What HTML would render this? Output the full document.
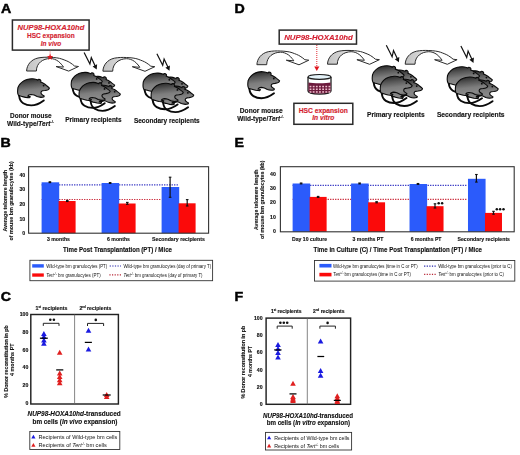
<!DOCTYPE html><html><head><meta charset="utf-8"><style>
html,body{margin:0;padding:0;background:#fff;width:520px;height:455px;overflow:hidden}
svg{display:block;filter:blur(0.3px);font-family:"Liberation Sans",sans-serif}
</style></head><body>
<svg width="520" height="455" viewBox="0 0 520 455">
<defs>
<linearGradient id="mg" x1="0.3" y1="0" x2="0.5" y2="1">
<stop offset="0" stop-color="#282828"/><stop offset="0.28" stop-color="#555"/><stop offset="0.58" stop-color="#7e7e7e"/><stop offset="0.85" stop-color="#898989"/><stop offset="1" stop-color="#6e6e6e"/>
</linearGradient>
<linearGradient id="ag" x1="26" y1="0" x2="79" y2="0" gradientUnits="userSpaceOnUse">
<stop offset="0" stop-color="#c2c2c2"/><stop offset="0.3" stop-color="#d6d6d6"/><stop offset="0.5" stop-color="#fff"/><stop offset="1" stop-color="#fff"/>
</linearGradient>
<g id="mouse">
<path d="M4.7,21.0 C3.9,19.8 3.6,18.6 3.6,17.2 C3.6,15.7 3.7,14.3 3.9,13.0 C4.4,11.6 5,10.4 5.9,9.4 C7,8.0 8,7.1 9.3,6.3 C10.8,5.4 12.3,4.8 13.9,4.4 C15.5,4.0 17,3.9 18.6,4.0 C20,4.1 21.3,4.4 22.4,4.8 L23.7,5.3 C24,4.8 24.4,4.4 24.8,4.4 C25.5,4.4 26.1,4.6 26.4,5.0 C26.8,5.5 26.9,5.9 26.9,6.4 L26.6,7.3 C27.6,7.7 28.5,8.0 29.3,8.5 C30.4,9.2 31.4,9.9 32.4,10.7 C33.5,11.5 34.6,12.3 35.4,13.2 C35.2,14.0 34.7,14.6 34,14.9 C33,15.3 32,15.5 30.9,15.7 L28.6,16.0 C27.6,16.4 27.1,17 27,17.6 C26.9,18.5 27.2,19.1 27.8,19.5 C28.5,20.1 29.3,20.6 30.0,21.0 C30.3,21.5 30.1,22.0 29.6,22.2 C28.8,22.5 27.9,22.6 27,22.6 C25.6,22.5 24.4,22.3 23.2,21.8 C22.2,21.3 21.1,20.8 20.1,20.3 C19.1,19.9 18,19.7 17,19.7 C16.1,19.8 15.3,20 14.7,20.3 L13.8,21.3 L16.2,21.8 C16.1,22.4 15.8,22.8 15.4,23 C14.2,23 12.9,22.8 11.6,22.6 C10.6,22.4 9.6,22.1 8.6,21.8 C7.5,21.5 6.5,21.2 5.5,21 Z" fill="url(#mg)" stroke="#0a0a0a" stroke-width="1.1" stroke-linejoin="round"/>
<path d="M5.2,21.2 C5.5,24.5 7,27 9.2,28.4 C11.8,30 14.5,30.6 17.2,30.6 C21.2,30.6 25.2,29 29.8,25.6" fill="none" stroke="#0a0a0a" stroke-width="1.9" stroke-linecap="round"/>
<circle cx="29.6" cy="10.8" r="0.9" fill="#0a0a0a"/>
</g>
<g id="group">
<use href="#mouse" transform="translate(12.55,4.15)"/>
<use href="#mouse"/>
<use href="#mouse" transform="translate(18.35,13.35)"/>
<use href="#mouse" transform="translate(8,10.4)"/>
</g>
<g id="arrow">
<path d="M26.6,71 C26.8,65 31,59.5 38,58 C42,57.2 46,57.1 50.2,57.3 C55,57.5 59,58 61.8,59 C65,60.2 67.8,61.2 69.8,62.5 C71.8,63.8 73.3,64.8 74.5,66 L78.5,66.5 L68.7,71.1 L56,66.5 L63.5,67.1 C63,66.3 62.5,65.5 61.8,64.8 C60.8,63.5 59.6,62.3 58.3,61.3 C55.8,59.5 53,58.5 50.2,58.5 C43,58.6 36.4,63 36.4,71 Z" fill="url(#ag)" stroke="#2a2a2a" stroke-width="1" stroke-linejoin="round"/>
</g>
<g id="bolt">
<polyline points="84.1,52.5 89.9,64 91.3,57.7 95.2,66" fill="none" stroke="#111" stroke-width="1.2" stroke-linejoin="miter"/>
<polygon points="92.6,66.4 97.1,64.2 96.7,69.5" fill="#111"/>
</g>
</defs>

<text transform="translate(0.9,12.6) scale(1.13,1)" font-size="12.6" font-weight="bold" fill="#000" stroke="#000" stroke-width="0.45">A</text>
<text transform="translate(0.6,146.6) scale(1.13,1)" font-size="12.6" font-weight="bold" fill="#000" stroke="#000" stroke-width="0.45">B</text>
<text transform="translate(0.7,301.3) scale(1.13,1)" font-size="12.6" font-weight="bold" fill="#000" stroke="#000" stroke-width="0.45">C</text>
<text transform="translate(234.6,12.6) scale(1.13,1)" font-size="12.6" font-weight="bold" fill="#000" stroke="#000" stroke-width="0.45">D</text>
<text transform="translate(234.6,146.9) scale(1.13,1)" font-size="12.6" font-weight="bold" fill="#000" stroke="#000" stroke-width="0.45">E</text>
<text transform="translate(234.6,301.0) scale(1.13,1)" font-size="12.6" font-weight="bold" fill="#000" stroke="#000" stroke-width="0.45">F</text>
<rect x="12.4" y="20" width="76.7" height="30.1" fill="#fff" stroke="#2a2a2a" stroke-width="1.5"/>
<text x="17.60" y="30.30" font-size="7.8" font-weight="bold" font-style="italic" fill="#d41e30" text-anchor="start" textLength="66.80" lengthAdjust="spacingAndGlyphs"  stroke="#d41e30" stroke-width="0.14">NUP98-HOXA10hd</text>
<text x="27.10" y="38.40" font-size="7.0" font-weight="bold" font-style="normal" fill="#d41e30" text-anchor="start" textLength="47.60" lengthAdjust="spacingAndGlyphs"  stroke="#d41e30" stroke-width="0.14">HSC expansion</text>
<text x="40.80" y="46.40" font-size="7.0" font-weight="bold" font-style="italic" fill="#d41e30" text-anchor="start" textLength="20.50" lengthAdjust="spacingAndGlyphs"  stroke="#d41e30" stroke-width="0.14">In vivo</text>
<use href="#arrow"/>
<use href="#arrow" transform="translate(76.3,0.2)"/>
<line x1="50.1" y1="50.8" x2="50.1" y2="55" stroke="#f0a0a0" stroke-width="0.8"/>
<polygon points="50.10,53.80 50.97,55.90 53.24,56.08 51.51,57.56 52.04,59.77 50.10,58.59 48.16,59.77 48.69,57.56 46.96,56.08 49.23,55.90" fill="#e0141c"/>
<use href="#mouse" transform="translate(14,74.8)"/>
<use href="#group" transform="translate(67.66,68.54) scale(0.9805,0.9614)"/>
<use href="#group" transform="translate(139.36,69.18) scale(1.0117,0.9783)"/>
<use href="#bolt"/>
<use href="#bolt" transform="translate(72.8,1.3)"/>
<text x="10.10" y="118.10" font-size="6.7" font-weight="bold" font-style="normal" fill="#111" text-anchor="start" textLength="41.50" lengthAdjust="spacingAndGlyphs"  stroke="#111" stroke-width="0.14">Donor mouse</text>
<text x="7.10" y="125.50" font-size="6.9" font-weight="bold" font-style="normal" fill="#111" text-anchor="start" textLength="47.00" lengthAdjust="spacingAndGlyphs"  stroke="#111" stroke-width="0.14">Wild-type/<tspan font-style="italic">Tert</tspan><tspan font-size="4" dy="-2.6" stroke-width="0.1">-/-</tspan></text>
<text x="65.20" y="122.40" font-size="6.7" font-weight="bold" font-style="normal" fill="#111" text-anchor="start" textLength="56.40" lengthAdjust="spacingAndGlyphs"  stroke="#111" stroke-width="0.14">Primary recipients</text>
<text x="133.90" y="122.50" font-size="6.9" font-weight="bold" font-style="normal" fill="#111" text-anchor="start" textLength="65.80" lengthAdjust="spacingAndGlyphs"  stroke="#111" stroke-width="0.14">Secondary recipients</text>
<rect x="279.2" y="30.1" width="77.3" height="14.0" fill="#fff" stroke="#2a2a2a" stroke-width="1.5"/>
<text x="284.20" y="40.10" font-size="8.0" font-weight="bold" font-style="italic" fill="#d41e30" text-anchor="start" textLength="68.60" lengthAdjust="spacingAndGlyphs"  stroke="#d41e30" stroke-width="0.14">NUP98-HOXA10hd</text>
<use href="#arrow" transform="translate(230.3,-6.3)"/>
<use href="#arrow" transform="translate(300.9,-6.8)"/>
<use href="#arrow" transform="translate(378.6,-6.8)"/>
<line x1="316.8" y1="45" x2="316.8" y2="67" stroke="#e0141c" stroke-width="0.9" stroke-dasharray="1,1"/>
<polygon points="314.2,66.5 319.4,66.5 316.8,71" fill="#e0141c"/>
<g>
<path d="M308,77 L308,91 C308,93 314,94 319.5,94 C325,94 331,93 331,91 L331,77" fill="#fff" stroke="#1a1a1a" stroke-width="1.25"/>
<path d="M308.4,82.6 C312,83.6 327,83.6 330.6,82.6 L330.6,91 C330.6,92.7 325,93.6 319.5,93.6 C314,93.6 308.4,92.7 308.4,91 Z" fill="#6c1a3c"/>
<ellipse cx="319.5" cy="76.9" rx="11.5" ry="2.4" fill="#e4f2f8" stroke="#1a1a1a" stroke-width="1.2"/>
</g>
<rect x="309.60" y="85.80" width="1.8" height="1.5" fill="#eebccc"/><rect x="312.75" y="85.80" width="1.8" height="1.5" fill="#eebccc"/><rect x="315.90" y="85.80" width="1.8" height="1.5" fill="#eebccc"/><rect x="319.05" y="85.80" width="1.8" height="1.5" fill="#eebccc"/><rect x="322.20" y="85.80" width="1.8" height="1.5" fill="#eebccc"/><rect x="325.35" y="85.80" width="1.8" height="1.5" fill="#eebccc"/><rect x="328.50" y="85.80" width="1.8" height="1.5" fill="#eebccc"/><rect x="309.60" y="88.50" width="1.8" height="1.5" fill="#eebccc"/><rect x="312.75" y="88.50" width="1.8" height="1.5" fill="#eebccc"/><rect x="315.90" y="88.50" width="1.8" height="1.5" fill="#eebccc"/><rect x="319.05" y="88.50" width="1.8" height="1.5" fill="#eebccc"/><rect x="322.20" y="88.50" width="1.8" height="1.5" fill="#eebccc"/><rect x="325.35" y="88.50" width="1.8" height="1.5" fill="#eebccc"/><rect x="328.50" y="88.50" width="1.8" height="1.5" fill="#eebccc"/><rect x="309.60" y="91.20" width="1.8" height="1.5" fill="#eebccc"/><rect x="312.75" y="91.20" width="1.8" height="1.5" fill="#eebccc"/><rect x="315.90" y="91.20" width="1.8" height="1.5" fill="#eebccc"/><rect x="319.05" y="91.20" width="1.8" height="1.5" fill="#eebccc"/><rect x="322.20" y="91.20" width="1.8" height="1.5" fill="#eebccc"/><rect x="325.35" y="91.20" width="1.8" height="1.5" fill="#eebccc"/><rect x="328.50" y="91.20" width="1.8" height="1.5" fill="#eebccc"/>
<rect x="293.9" y="103.3" width="58.9" height="21.0" fill="#fff" stroke="#2a2a2a" stroke-width="1.5"/>
<text x="298.75" y="112.50" font-size="6.3" font-weight="bold" font-style="normal" fill="#d41e30" text-anchor="start" textLength="49.10" lengthAdjust="spacingAndGlyphs"  stroke="#d41e30" stroke-width="0.14">HSC expansion</text>
<text x="312.25" y="120.40" font-size="6.3" font-weight="bold" font-style="italic" fill="#d41e30" text-anchor="start" textLength="22.20" lengthAdjust="spacingAndGlyphs"  stroke="#d41e30" stroke-width="0.14">In vitro</text>
<use href="#mouse" transform="translate(244.2,67.7)"/>
<use href="#group" transform="translate(368.59,61.77) scale(1.0039,1.0072)"/>
<use href="#group" transform="translate(443.55,62.86) scale(1.0176,0.9831)"/>
<use href="#bolt" transform="translate(302.2,-7.2)"/>
<use href="#bolt" transform="translate(376.8,-6.6)"/>
<text x="239.80" y="113.30" font-size="6.7" font-weight="bold" font-style="normal" fill="#111" text-anchor="start" textLength="42.80" lengthAdjust="spacingAndGlyphs"  stroke="#111" stroke-width="0.14">Donor mouse</text>
<text x="237.30" y="120.90" font-size="6.9" font-weight="bold" font-style="normal" fill="#111" text-anchor="start" textLength="46.50" lengthAdjust="spacingAndGlyphs"  stroke="#111" stroke-width="0.14">Wild-type/<tspan font-style="italic">Tert</tspan><tspan font-size="4" dy="-2.6" stroke-width="0.1">-/-</tspan></text>
<text x="367.00" y="116.50" font-size="6.9" font-weight="bold" font-style="normal" fill="#111" text-anchor="start" textLength="57.70" lengthAdjust="spacingAndGlyphs"  stroke="#111" stroke-width="0.14">Primary recipients</text>
<text x="436.90" y="116.50" font-size="6.9" font-weight="bold" font-style="normal" fill="#111" text-anchor="start" textLength="67.70" lengthAdjust="spacingAndGlyphs"  stroke="#111" stroke-width="0.14">Secondary recipients</text>
<line x1="41.60" y1="184.8" x2="178.5" y2="184.8" stroke="#2c2cc0" stroke-width="1.2" stroke-dasharray="1.25,1.25"/>
<line x1="41.60" y1="199.5" x2="161.5" y2="199.5" stroke="#c82233" stroke-width="1.2" stroke-dasharray="1.25,1.25"/>
<rect x="41.60" y="182.3" width="17.6" height="50.90" fill="#2b5bfb"/>
<rect x="58.60" y="201.0" width="17.0" height="32.20" fill="#fb0a0a"/>
<rect x="101.60" y="183.0" width="17.6" height="50.20" fill="#2b5bfb"/>
<rect x="118.60" y="203.5" width="17.0" height="29.70" fill="#fb0a0a"/>
<rect x="161.60" y="187.0" width="17.6" height="46.20" fill="#2b5bfb"/>
<rect x="178.60" y="203.3" width="17.0" height="29.90" fill="#fb0a0a"/>
<line x1="49.9" y1="181.8" x2="49.9" y2="182.6" stroke="#111" stroke-width="1.2"/>
<line x1="48.6" y1="181.8" x2="51.199999999999996" y2="181.8" stroke="#111" stroke-width="1.1"/>
<line x1="48.6" y1="182.6" x2="51.199999999999996" y2="182.6" stroke="#111" stroke-width="1.1"/>
<line x1="67.3" y1="200.4" x2="67.3" y2="201.5" stroke="#111" stroke-width="1.2"/>
<line x1="66.0" y1="200.4" x2="68.6" y2="200.4" stroke="#111" stroke-width="1.1"/>
<line x1="66.0" y1="201.5" x2="68.6" y2="201.5" stroke="#111" stroke-width="1.1"/>
<line x1="110.1" y1="182.6" x2="110.1" y2="183.4" stroke="#111" stroke-width="1.2"/>
<line x1="108.8" y1="182.6" x2="111.39999999999999" y2="182.6" stroke="#111" stroke-width="1.1"/>
<line x1="108.8" y1="183.4" x2="111.39999999999999" y2="183.4" stroke="#111" stroke-width="1.1"/>
<line x1="127.3" y1="202.4" x2="127.3" y2="204.3" stroke="#111" stroke-width="1.2"/>
<line x1="126.0" y1="202.4" x2="128.6" y2="202.4" stroke="#111" stroke-width="1.1"/>
<line x1="126.0" y1="204.3" x2="128.6" y2="204.3" stroke="#111" stroke-width="1.1"/>
<line x1="170.1" y1="177.2" x2="170.1" y2="197.3" stroke="#111" stroke-width="1.2"/>
<line x1="168.79999999999998" y1="177.2" x2="171.4" y2="177.2" stroke="#111" stroke-width="1.1"/>
<line x1="168.79999999999998" y1="197.3" x2="171.4" y2="197.3" stroke="#111" stroke-width="1.1"/>
<line x1="187.2" y1="199.6" x2="187.2" y2="206.0" stroke="#111" stroke-width="1.2"/>
<line x1="185.89999999999998" y1="199.6" x2="188.5" y2="199.6" stroke="#111" stroke-width="1.1"/>
<line x1="185.89999999999998" y1="206.0" x2="188.5" y2="206.0" stroke="#111" stroke-width="1.1"/>
<rect x="28.6" y="166.7" width="180.00" height="66.50" fill="none" stroke="#333" stroke-width="1.1"/>
<text x="25.20" y="176.55" font-size="5.2" font-weight="bold" font-style="normal" fill="#111" text-anchor="end"  stroke="#111" stroke-width="0.14">40</text>
<text x="25.20" y="191.20" font-size="5.2" font-weight="bold" font-style="normal" fill="#111" text-anchor="end"  stroke="#111" stroke-width="0.14">30</text>
<text x="25.20" y="205.80" font-size="5.2" font-weight="bold" font-style="normal" fill="#111" text-anchor="end"  stroke="#111" stroke-width="0.14">20</text>
<text x="25.20" y="220.50" font-size="5.2" font-weight="bold" font-style="normal" fill="#111" text-anchor="end"  stroke="#111" stroke-width="0.14">10</text>
<text x="25.20" y="235.20" font-size="5.2" font-weight="bold" font-style="normal" fill="#111" text-anchor="end"  stroke="#111" stroke-width="0.14">0</text>
<text transform="translate(7.1,200.85) rotate(-90)" x="0" y="0" font-size="5.35" font-weight="bold" text-anchor="middle" fill="#111" stroke="#111" stroke-width="0.1" textLength="61.5" lengthAdjust="spacingAndGlyphs">Average telomere length</text>
<text transform="translate(13.3,200.85) rotate(-90)" x="0" y="0" font-size="5.35" font-weight="bold" text-anchor="middle" fill="#111" stroke="#111" stroke-width="0.1" textLength="79.1" lengthAdjust="spacingAndGlyphs">of mouse bm granulocytes (kb)</text>
<text x="46.90" y="240.50" font-size="5.6" font-weight="bold" font-style="normal" fill="#111" text-anchor="start" textLength="23.10" lengthAdjust="spacingAndGlyphs"  stroke="#111" stroke-width="0.14">3 months</text>
<text x="107.00" y="240.50" font-size="5.6" font-weight="bold" font-style="normal" fill="#111" text-anchor="start" textLength="23.00" lengthAdjust="spacingAndGlyphs"  stroke="#111" stroke-width="0.14">6 months</text>
<text x="152.00" y="240.50" font-size="5.6" font-weight="bold" font-style="normal" fill="#111" text-anchor="start" textLength="52.80" lengthAdjust="spacingAndGlyphs"  stroke="#111" stroke-width="0.14">Secondary recipients</text>
<text x="63.10" y="251.70" font-size="6.8" font-weight="bold" font-style="normal" fill="#111" text-anchor="start" textLength="108.90" lengthAdjust="spacingAndGlyphs"  stroke="#111" stroke-width="0.14">Time Post Transplantation (PT) / Mice</text>
<rect x="29.9" y="260.3" width="182.7" height="20.4" fill="#fff" stroke="#333" stroke-width="0.9"/>
<rect x="32.2" y="264.2" width="11.6" height="3.4" fill="#2b5bfb"/>
<rect x="32.2" y="273.4" width="11.6" height="3.3" fill="#fb0a0a"/>
<text x="46.30" y="267.60" font-size="4.5" font-weight="normal" font-style="normal" fill="#111" text-anchor="start" textLength="60.90" lengthAdjust="spacingAndGlyphs" >Wild-type bm granulocytes (PT)</text>
<text x="46.30" y="276.50" font-size="4.5" font-weight="normal" font-style="italic" fill="#111" text-anchor="start" textLength="54.40" lengthAdjust="spacingAndGlyphs" >Tert<tspan font-size="3.0" dy="-1.7">-/-</tspan><tspan dy="1.7" font-style="normal"> bm granulocytes (PT)</tspan></text>
<line x1="109.7" y1="266" x2="121" y2="266" stroke="#2020a8" stroke-width="1.2" stroke-dasharray="1.2,1.4"/>
<line x1="109.4" y1="274.9" x2="121.2" y2="274.9" stroke="#b82838" stroke-width="1.2" stroke-dasharray="1.2,1.4"/>
<text x="123.40" y="267.60" font-size="4.5" font-weight="normal" font-style="normal" fill="#111" text-anchor="start" textLength="87.90" lengthAdjust="spacingAndGlyphs" >Wild-type bm granulocytes (day of primary T)</text>
<text x="123.40" y="276.50" font-size="4.5" font-weight="normal" font-style="italic" fill="#111" text-anchor="start" textLength="79.20" lengthAdjust="spacingAndGlyphs" >Tert<tspan font-size="3.0" dy="-1.7">-/-</tspan><tspan dy="1.7" font-style="normal"> bm granulocytes (day of primary T)</tspan></text>
<line x1="292.62" y1="185.4" x2="467.5" y2="185.4" stroke="#2c2cc0" stroke-width="1.2" stroke-dasharray="1.25,1.25"/>
<line x1="292.62" y1="199.4" x2="467.5" y2="199.4" stroke="#c82233" stroke-width="1.2" stroke-dasharray="1.25,1.25"/>
<rect x="292.62" y="183.5" width="17.6" height="48.30" fill="#2b5bfb"/>
<rect x="309.62" y="196.9" width="17.0" height="34.90" fill="#fb0a0a"/>
<rect x="351.07" y="183.5" width="17.6" height="48.30" fill="#2b5bfb"/>
<rect x="368.07" y="202.3" width="17.0" height="29.50" fill="#fb0a0a"/>
<rect x="409.53" y="184.0" width="17.6" height="47.80" fill="#2b5bfb"/>
<rect x="426.53" y="206.2" width="17.0" height="25.60" fill="#fb0a0a"/>
<rect x="467.98" y="178.8" width="17.6" height="53.00" fill="#2b5bfb"/>
<rect x="484.98" y="212.9" width="17.0" height="18.90" fill="#fb0a0a"/>
<line x1="301.1" y1="183.0" x2="301.1" y2="183.9" stroke="#111" stroke-width="1.2"/>
<line x1="299.8" y1="183.0" x2="302.40000000000003" y2="183.0" stroke="#111" stroke-width="1.1"/>
<line x1="299.8" y1="183.9" x2="302.40000000000003" y2="183.9" stroke="#111" stroke-width="1.1"/>
<line x1="318.1" y1="196.4" x2="318.1" y2="197.4" stroke="#111" stroke-width="1.2"/>
<line x1="316.8" y1="196.4" x2="319.40000000000003" y2="196.4" stroke="#111" stroke-width="1.1"/>
<line x1="316.8" y1="197.4" x2="319.40000000000003" y2="197.4" stroke="#111" stroke-width="1.1"/>
<line x1="359.6" y1="183.0" x2="359.6" y2="183.9" stroke="#111" stroke-width="1.2"/>
<line x1="358.3" y1="183.0" x2="360.90000000000003" y2="183.0" stroke="#111" stroke-width="1.1"/>
<line x1="358.3" y1="183.9" x2="360.90000000000003" y2="183.9" stroke="#111" stroke-width="1.1"/>
<line x1="376.6" y1="201.7" x2="376.6" y2="202.8" stroke="#111" stroke-width="1.2"/>
<line x1="375.3" y1="201.7" x2="377.90000000000003" y2="201.7" stroke="#111" stroke-width="1.1"/>
<line x1="375.3" y1="202.8" x2="377.90000000000003" y2="202.8" stroke="#111" stroke-width="1.1"/>
<line x1="418.0" y1="183.5" x2="418.0" y2="184.4" stroke="#111" stroke-width="1.2"/>
<line x1="416.7" y1="183.5" x2="419.3" y2="183.5" stroke="#111" stroke-width="1.1"/>
<line x1="416.7" y1="184.4" x2="419.3" y2="184.4" stroke="#111" stroke-width="1.1"/>
<line x1="435.0" y1="203.8" x2="435.0" y2="208.0" stroke="#111" stroke-width="1.2"/>
<line x1="433.7" y1="203.8" x2="436.3" y2="203.8" stroke="#111" stroke-width="1.1"/>
<line x1="433.7" y1="208.0" x2="436.3" y2="208.0" stroke="#111" stroke-width="1.1"/>
<line x1="476.4" y1="174.5" x2="476.4" y2="182.1" stroke="#111" stroke-width="1.2"/>
<line x1="475.09999999999997" y1="174.5" x2="477.7" y2="174.5" stroke="#111" stroke-width="1.1"/>
<line x1="475.09999999999997" y1="182.1" x2="477.7" y2="182.1" stroke="#111" stroke-width="1.1"/>
<line x1="493.5" y1="211.3" x2="493.5" y2="214.2" stroke="#111" stroke-width="1.2"/>
<line x1="492.2" y1="211.3" x2="494.8" y2="211.3" stroke="#111" stroke-width="1.1"/>
<line x1="492.2" y1="214.2" x2="494.8" y2="214.2" stroke="#111" stroke-width="1.1"/>
<rect x="280.4" y="166.7" width="233.80" height="65.10" fill="none" stroke="#333" stroke-width="1.1"/>
<text x="275.80" y="175.80" font-size="5.2" font-weight="bold" font-style="normal" fill="#111" text-anchor="end"  stroke="#111" stroke-width="0.14">40</text>
<text x="275.80" y="190.20" font-size="5.2" font-weight="bold" font-style="normal" fill="#111" text-anchor="end"  stroke="#111" stroke-width="0.14">30</text>
<text x="275.80" y="204.30" font-size="5.2" font-weight="bold" font-style="normal" fill="#111" text-anchor="end"  stroke="#111" stroke-width="0.14">20</text>
<text x="275.80" y="218.70" font-size="5.2" font-weight="bold" font-style="normal" fill="#111" text-anchor="end"  stroke="#111" stroke-width="0.14">10</text>
<text x="275.80" y="232.80" font-size="5.2" font-weight="bold" font-style="normal" fill="#111" text-anchor="end"  stroke="#111" stroke-width="0.14">0</text>
<text transform="translate(258.3,199.7) rotate(-90)" x="0" y="0" font-size="5.35" font-weight="bold" text-anchor="middle" fill="#111" stroke="#111" stroke-width="0.1" textLength="60.5" lengthAdjust="spacingAndGlyphs">Average telomere length</text>
<text transform="translate(264.4,199.7) rotate(-90)" x="0" y="0" font-size="5.35" font-weight="bold" text-anchor="middle" fill="#111" stroke="#111" stroke-width="0.1" textLength="78.5" lengthAdjust="spacingAndGlyphs">of mouse bm granulocytes (kb)</text>
<circle cx="438.7" cy="203.2" r="1.25" fill="#111"/>
<circle cx="442.1" cy="203.2" r="1.25" fill="#111"/>
<circle cx="496.8" cy="209.3" r="1.25" fill="#111"/>
<circle cx="500.1" cy="209.3" r="1.25" fill="#111"/>
<circle cx="503.5" cy="209.3" r="1.25" fill="#111"/>
<text x="292.00" y="240.90" font-size="5.6" font-weight="bold" font-style="normal" fill="#111" text-anchor="start" textLength="35.00" lengthAdjust="spacingAndGlyphs"  stroke="#111" stroke-width="0.14">Day 10 culture</text>
<text x="352.60" y="240.90" font-size="5.6" font-weight="bold" font-style="normal" fill="#111" text-anchor="start" textLength="30.80" lengthAdjust="spacingAndGlyphs"  stroke="#111" stroke-width="0.14">3 months PT</text>
<text x="410.80" y="240.90" font-size="5.6" font-weight="bold" font-style="normal" fill="#111" text-anchor="start" textLength="30.70" lengthAdjust="spacingAndGlyphs"  stroke="#111" stroke-width="0.14">6 months PT</text>
<text x="457.50" y="240.90" font-size="5.6" font-weight="bold" font-style="normal" fill="#111" text-anchor="start" textLength="52.50" lengthAdjust="spacingAndGlyphs"  stroke="#111" stroke-width="0.14">Secondary recipients</text>
<text x="313.50" y="251.70" font-size="6.8" font-weight="bold" font-style="normal" fill="#111" text-anchor="start" textLength="168.50" lengthAdjust="spacingAndGlyphs"  stroke="#111" stroke-width="0.14">Time in Culture (C) / Time Post Transplantation (PT) / Mice</text>
<rect x="314.5" y="260.5" width="200.3" height="20.6" fill="#fff" stroke="#333" stroke-width="0.9"/>
<rect x="319.4" y="263.9" width="12.1" height="3.6" fill="#2b5bfb"/>
<rect x="319.4" y="272.8" width="12.1" height="3.6" fill="#fb0a0a"/>
<text x="333.10" y="267.60" font-size="4.5" font-weight="normal" font-style="normal" fill="#111" text-anchor="start" textLength="84.60" lengthAdjust="spacingAndGlyphs" >Wild-type bm granulocytes (time in C or PT)</text>
<text x="333.10" y="276.10" font-size="4.5" font-weight="normal" font-style="italic" fill="#111" text-anchor="start" textLength="77.80" lengthAdjust="spacingAndGlyphs" >Tert<tspan font-size="3.0" dy="-1.7">-/-</tspan><tspan dy="1.7" font-style="normal"> bm granulocytes (time in C or PT)</tspan></text>
<line x1="424.1" y1="266.1" x2="435.8" y2="266.1" stroke="#2020a8" stroke-width="1.2" stroke-dasharray="1.2,1.4"/>
<line x1="424.1" y1="274.3" x2="435.8" y2="274.3" stroke="#b82838" stroke-width="1.2" stroke-dasharray="1.2,1.4"/>
<text x="438.20" y="267.60" font-size="4.5" font-weight="normal" font-style="normal" fill="#111" text-anchor="start" textLength="73.80" lengthAdjust="spacingAndGlyphs" >Wild-type bm granulocytes (prior to C)</text>
<text x="438.20" y="276.10" font-size="4.5" font-weight="normal" font-style="italic" fill="#111" text-anchor="start" textLength="65.70" lengthAdjust="spacingAndGlyphs" >Tert<tspan font-size="3.0" dy="-1.7">-/-</tspan><tspan dy="1.7" font-style="normal"> bm granulocytes (prior to C)</tspan></text>
<rect x="30.8" y="314.5" width="87.60" height="89.50" fill="none" stroke="#222" stroke-width="1.45"/>
<line x1="74.6" y1="314.5" x2="74.6" y2="404.0" stroke="#666" stroke-width="0.8"/>
<text x="28.30" y="316.10" font-size="5.2" font-weight="bold" font-style="normal" fill="#111" text-anchor="end"  stroke="#111" stroke-width="0.14">100</text>
<text x="28.30" y="333.60" font-size="5.2" font-weight="bold" font-style="normal" fill="#111" text-anchor="end"  stroke="#111" stroke-width="0.14">80</text>
<text x="28.30" y="351.60" font-size="5.2" font-weight="bold" font-style="normal" fill="#111" text-anchor="end"  stroke="#111" stroke-width="0.14">60</text>
<text x="28.30" y="369.30" font-size="5.2" font-weight="bold" font-style="normal" fill="#111" text-anchor="end"  stroke="#111" stroke-width="0.14">40</text>
<text x="28.30" y="387.30" font-size="5.2" font-weight="bold" font-style="normal" fill="#111" text-anchor="end"  stroke="#111" stroke-width="0.14">20</text>
<text x="28.30" y="405.10" font-size="5.2" font-weight="bold" font-style="normal" fill="#111" text-anchor="end"  stroke="#111" stroke-width="0.14">0</text>
<text transform="translate(7.7,361.5) rotate(-90)" font-size="5.4" font-weight="bold" text-anchor="middle" fill="#111" stroke="#111" stroke-width="0.1" textLength="72.4" lengthAdjust="spacingAndGlyphs">% Donor reconstitution in pb</text>
<text transform="translate(14.0,359.7) rotate(-90)" font-size="5.4" font-weight="bold" text-anchor="middle" fill="#111" stroke="#111" stroke-width="0.1" textLength="32.6" lengthAdjust="spacingAndGlyphs">4 months PT</text>
<text x="35.50" y="310.00" font-size="5.6" font-weight="bold" font-style="normal" fill="#111" text-anchor="start" textLength="32.00" lengthAdjust="spacingAndGlyphs"  stroke="#111" stroke-width="0.14">1<tspan font-size="3" dy="-2">st</tspan><tspan dy="2"> recipients</tspan></text>
<text x="79.40" y="310.00" font-size="5.6" font-weight="bold" font-style="normal" fill="#111" text-anchor="start" textLength="32.00" lengthAdjust="spacingAndGlyphs"  stroke="#111" stroke-width="0.14">2<tspan font-size="3" dy="-2">nd</tspan><tspan dy="2"> recipients</tspan></text>
<polyline points="43.3,325.90000000000003 43.3,323.3 59.0,323.3 59.0,325.90000000000003" fill="none" stroke="#222" stroke-width="1.0"/>
<polyline points="87.5,326.0 87.5,323.4 103.6,323.4 103.6,326.0" fill="none" stroke="#222" stroke-width="1.0"/>
<circle cx="50.3" cy="319.8" r="1.3" fill="#111"/>
<circle cx="53.9" cy="319.8" r="1.3" fill="#111"/>
<circle cx="95.8" cy="319.9" r="1.3" fill="#111"/>
<polygon points="41.10,335.89 46.70,335.89 43.90,330.91" fill="#1a1ae0"/>
<polygon points="41.10,339.09 46.70,339.09 43.90,334.11" fill="#1a1ae0"/>
<polygon points="41.10,342.39 46.70,342.39 43.90,337.41" fill="#1a1ae0"/>
<polygon points="41.10,345.69 46.70,345.69 43.90,340.71" fill="#1a1ae0"/>
<polygon points="56.90,354.79 62.50,354.79 59.70,349.81" fill="#e02020"/>
<polygon points="56.90,375.49 62.50,375.49 59.70,370.51" fill="#e02020"/>
<polygon points="56.90,378.99 62.50,378.99 59.70,374.01" fill="#e02020"/>
<polygon points="56.90,382.29 62.50,382.29 59.70,377.31" fill="#e02020"/>
<polygon points="56.90,385.29 62.50,385.29 59.70,380.31" fill="#e02020"/>
<polygon points="85.70,332.69 91.30,332.69 88.50,327.71" fill="#1a1ae0"/>
<polygon points="85.70,351.49 91.30,351.49 88.50,346.51" fill="#1a1ae0"/>
<polygon points="103.90,396.99 109.50,396.99 106.70,392.01" fill="#e02020"/>
<polygon points="103.90,398.99 109.50,398.99 106.70,394.01" fill="#e02020"/>
<line x1="39.9" y1="338.2" x2="47.8" y2="338.2" stroke="#000" stroke-width="1.25"/>
<line x1="56.2" y1="369.9" x2="63.3" y2="369.9" stroke="#000" stroke-width="1.25"/>
<line x1="84.8" y1="342.4" x2="91.9" y2="342.4" stroke="#000" stroke-width="1.25"/>
<line x1="102.7" y1="395.0" x2="110.7" y2="395.0" stroke="#000" stroke-width="1.25"/>
<text x="27.50" y="415.90" font-size="7.0" font-weight="bold" font-style="italic" fill="#111" text-anchor="start" textLength="93.20" lengthAdjust="spacingAndGlyphs"  stroke="#111" stroke-width="0.14">NUP98-HOXA10hd<tspan font-style="normal">-transduced</tspan></text>
<text x="32.50" y="423.60" font-size="7.0" font-weight="bold" font-style="normal" fill="#111" text-anchor="start" textLength="85.00" lengthAdjust="spacingAndGlyphs"  stroke="#111" stroke-width="0.14">bm cells (<tspan font-style="italic">In vivo</tspan> expansion)</text>
<rect x="29.8" y="431.5" width="90.00" height="18.00" fill="#fff" stroke="#333" stroke-width="0.9"/>
<polygon points="31.30,438.47 35.50,438.47 33.40,434.73" fill="#1a1ae0"/>
<polygon points="31.30,446.67 35.50,446.67 33.40,442.93" fill="#e02020"/>
<text x="38.50" y="438.90" font-size="5.7" font-weight="normal" font-style="normal" fill="#111" text-anchor="start" textLength="78.80" lengthAdjust="spacingAndGlyphs" >Recipients of Wild-type bm cells</text>
<text x="38.50" y="447.00" font-size="5.7" font-weight="normal" font-style="normal" fill="#111" text-anchor="start" textLength="68.30" lengthAdjust="spacingAndGlyphs" >Recipients of <tspan font-style="italic">Tert</tspan><tspan font-size="3.2" dy="-2">-/-</tspan><tspan dy="2"> bm cells</tspan></text>
<rect x="266.1" y="318.1" width="84.50" height="86.20" fill="none" stroke="#222" stroke-width="1.45"/>
<line x1="307.3" y1="318.1" x2="307.3" y2="404.3" stroke="#666" stroke-width="0.8"/>
<text x="262.60" y="319.50" font-size="5.2" font-weight="bold" font-style="normal" fill="#111" text-anchor="end"  stroke="#111" stroke-width="0.14">100</text>
<text x="262.60" y="337.10" font-size="5.2" font-weight="bold" font-style="normal" fill="#111" text-anchor="end"  stroke="#111" stroke-width="0.14">80</text>
<text x="262.60" y="354.20" font-size="5.2" font-weight="bold" font-style="normal" fill="#111" text-anchor="end"  stroke="#111" stroke-width="0.14">60</text>
<text x="262.60" y="371.60" font-size="5.2" font-weight="bold" font-style="normal" fill="#111" text-anchor="end"  stroke="#111" stroke-width="0.14">40</text>
<text x="262.60" y="388.70" font-size="5.2" font-weight="bold" font-style="normal" fill="#111" text-anchor="end"  stroke="#111" stroke-width="0.14">20</text>
<text x="262.60" y="405.80" font-size="5.2" font-weight="bold" font-style="normal" fill="#111" text-anchor="end"  stroke="#111" stroke-width="0.14">0</text>
<text transform="translate(245.1,362.2) rotate(-90)" font-size="5.4" font-weight="bold" text-anchor="middle" fill="#111" stroke="#111" stroke-width="0.1" textLength="72.8" lengthAdjust="spacingAndGlyphs">% Donor reconstitution in pb</text>
<text transform="translate(252.2,361.5) rotate(-90)" font-size="5.4" font-weight="bold" text-anchor="middle" fill="#111" stroke="#111" stroke-width="0.1" textLength="31.0" lengthAdjust="spacingAndGlyphs">4 months PT</text>
<text x="270.90" y="313.00" font-size="5.6" font-weight="bold" font-style="normal" fill="#111" text-anchor="start" textLength="30.60" lengthAdjust="spacingAndGlyphs"  stroke="#111" stroke-width="0.14">1<tspan font-size="3" dy="-2">st</tspan><tspan dy="2"> recipients</tspan></text>
<text x="313.10" y="313.00" font-size="5.6" font-weight="bold" font-style="normal" fill="#111" text-anchor="start" textLength="31.40" lengthAdjust="spacingAndGlyphs"  stroke="#111" stroke-width="0.14">2<tspan font-size="3" dy="-2">nd</tspan><tspan dy="2"> recipients</tspan></text>
<polyline points="277.2,328.70000000000005 277.2,326.1 292.2,326.1 292.2,328.70000000000005" fill="none" stroke="#222" stroke-width="1.0"/>
<polyline points="319.9,328.70000000000005 319.9,326.1 335.4,326.1 335.4,328.70000000000005" fill="none" stroke="#222" stroke-width="1.0"/>
<circle cx="280.4" cy="322.7" r="1.3" fill="#111"/>
<circle cx="283.8" cy="322.7" r="1.3" fill="#111"/>
<circle cx="287.2" cy="322.7" r="1.3" fill="#111"/>
<circle cx="327.6" cy="322.9" r="1.3" fill="#111"/>
<polygon points="275.20,346.89 280.80,346.89 278.00,341.91" fill="#1a1ae0"/>
<polygon points="275.20,350.99 280.80,350.99 278.00,346.01" fill="#1a1ae0"/>
<polygon points="275.20,355.09 280.80,355.09 278.00,350.11" fill="#1a1ae0"/>
<polygon points="275.20,359.59 280.80,359.59 278.00,354.61" fill="#1a1ae0"/>
<polygon points="290.20,385.79 295.80,385.79 293.00,380.81" fill="#e02020"/>
<polygon points="290.20,398.99 295.80,398.99 293.00,394.01" fill="#e02020"/>
<polygon points="290.20,400.49 295.80,400.49 293.00,395.51" fill="#e02020"/>
<polygon points="290.20,402.09 295.80,402.09 293.00,397.11" fill="#e02020"/>
<polygon points="290.20,402.89 295.80,402.89 293.00,397.91" fill="#e02020"/>
<polygon points="317.80,343.49 323.40,343.49 320.60,338.51" fill="#1a1ae0"/>
<polygon points="317.80,373.09 323.40,373.09 320.60,368.11" fill="#1a1ae0"/>
<polygon points="317.80,377.79 323.40,377.79 320.60,372.81" fill="#1a1ae0"/>
<polygon points="334.50,398.29 340.10,398.29 337.30,393.31" fill="#e02020"/>
<polygon points="334.50,400.49 340.10,400.49 337.30,395.51" fill="#e02020"/>
<polygon points="334.50,402.69 340.10,402.69 337.30,397.71" fill="#e02020"/>
<polygon points="334.50,404.09 340.10,404.09 337.30,399.11" fill="#e02020"/>
<line x1="274.2" y1="349.9" x2="281.5" y2="349.9" stroke="#000" stroke-width="1.25"/>
<line x1="289.5" y1="393.9" x2="296.5" y2="393.9" stroke="#000" stroke-width="1.25"/>
<line x1="317.4" y1="356.5" x2="324.2" y2="356.5" stroke="#000" stroke-width="1.25"/>
<line x1="333.8" y1="400.4" x2="340.8" y2="400.4" stroke="#000" stroke-width="1.25"/>
<text x="263.00" y="417.60" font-size="7.0" font-weight="bold" font-style="italic" fill="#111" text-anchor="start" textLength="90.00" lengthAdjust="spacingAndGlyphs"  stroke="#111" stroke-width="0.14">NUP98-HOXA10hd<tspan font-style="normal">-transduced</tspan></text>
<text x="266.70" y="424.70" font-size="7.0" font-weight="bold" font-style="normal" fill="#111" text-anchor="start" textLength="83.30" lengthAdjust="spacingAndGlyphs"  stroke="#111" stroke-width="0.14">bm cells (<tspan font-style="italic">In vitro</tspan> expansion)</text>
<rect x="265.5" y="432.4" width="86.10" height="17.60" fill="#fff" stroke="#333" stroke-width="0.9"/>
<polygon points="267.00,439.37 271.20,439.37 269.10,435.63" fill="#1a1ae0"/>
<polygon points="267.00,447.57 271.20,447.57 269.10,443.83" fill="#e02020"/>
<text x="274.20" y="439.80" font-size="5.7" font-weight="normal" font-style="normal" fill="#111" text-anchor="start" textLength="75.30" lengthAdjust="spacingAndGlyphs" >Recipients of Wild-type bm cells</text>
<text x="274.20" y="447.90" font-size="5.7" font-weight="normal" font-style="normal" fill="#111" text-anchor="start" textLength="65.00" lengthAdjust="spacingAndGlyphs" >Recipients of <tspan font-style="italic">Tert</tspan><tspan font-size="3.2" dy="-2">-/-</tspan><tspan dy="2"> bm cells</tspan></text>
</svg></body></html>
